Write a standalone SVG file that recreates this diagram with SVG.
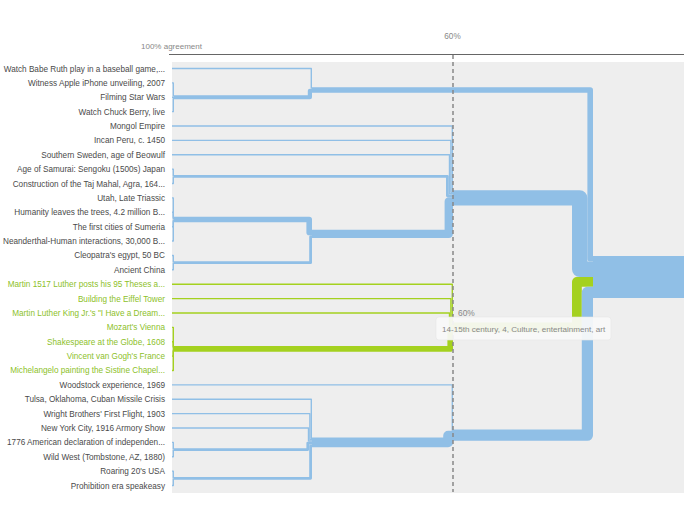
<svg xmlns="http://www.w3.org/2000/svg" width="684" height="532" viewBox="0 0 684 532">
<style>
.lbl{font-family:"Liberation Sans",Arial,sans-serif;font-size:8.2px;fill:#4a4a4a;text-anchor:end}
.lg{fill:#8dbf2a}
.ax{font-family:"Liberation Sans",Arial,sans-serif;fill:#888}
.c{fill:none;stroke-linejoin:round;stroke-linecap:butt}
.b{stroke:#90bfe6}
.gr{stroke:#a4d11f}
.w1{stroke-width:1.4}
.w2{stroke-width:2.8}
.w3{stroke-width:4.2}
.w4{stroke-width:5.6}
.w6{stroke-width:8.4}
.w7{stroke-width:9.8}
.w8{stroke-width:11.2}
.w11{stroke-width:15.4}
.w30{stroke-width:42}
</style>
<rect x="0" y="0" width="684" height="532" fill="#ffffff"/>
<rect x="172" y="62" width="512" height="431" fill="#eeeeee"/>
<g id="axis">
<line x1="169" y1="54.5" x2="684" y2="54.5" stroke="#666" stroke-width="1"/>
<text class="ax" x="141" y="49" font-size="8px">100% agreement</text>
<text class="ax" x="452.5" y="39" font-size="8.2px" text-anchor="middle" fill="#666">60%</text>
</g>
<g id="connectors">
<!-- cluster A -->
<path class="c b w1" d="M172 82.88H173.3V95.86H174"/>
<path class="c b w1" d="M172 97.26H174"/>
<path class="c b w1" d="M172 111.64H173.3V98.66H174"/>
<path class="c b w1" d="M172 68.5H311.3V87.97H312"/>
<path class="c b w3" d="M174 97.26H309.9V90.77H312"/>
<!-- cluster BCD -->
<path class="c b w1" d="M172 169.16H173.3V175.65H174"/>
<path class="c b w1" d="M172 183.54H173.3V177.05H174"/>
<path class="c b w1" d="M172 197.92H173.3V217.39H174"/>
<path class="c b w1" d="M172 212.3H173.3V218.79H174"/>
<path class="c b w1" d="M172 226.68H173.3V220.19H174"/>
<path class="c b w1" d="M172 241.06H173.3V221.59H174"/>
<path class="c b w1" d="M172 255.44H173.3V261.93H174"/>
<path class="c b w1" d="M172 269.82H173.3V263.33H174"/>
<path class="c b w4" d="M174 219.49H309.2V232.47H312"/>
<path class="c b w2" d="M174 262.63H310.6V236.67H312"/>
<path class="c b w1" d="M172 126.02H452.3V190.92H453"/>
<path class="c b w1" d="M172 140.4H450.9V192.32H453"/>
<path class="c b w1" d="M172 154.78H449.5V193.72H453"/>
<path class="c b w2" d="M174 176.35H447.4V195.82H453"/>
<path class="c b w6" d="M312 233.87H448.8V201.42H453"/>
<!-- green cluster -->
<path class="c gr w1" d="M172 327.34H173.3V346.81H174"/>
<path class="c gr w1" d="M172 341.72H173.3V348.21H174"/>
<path class="c gr w1" d="M172 356.1H173.3V349.61H174"/>
<path class="c gr w1" d="M172 370.48H173.3V351.01H174"/>
<path class="c gr w1" d="M172 284.2H452.3V323.14H453"/>
<path class="c gr w1" d="M172 298.58H450.9V324.54H453"/>
<path class="c gr w1" d="M172 312.96H449.5V325.94H453"/>
<path class="c gr w4" d="M174 348.91H450.2V329.44H453"/>
<!-- bottom cluster -->
<path class="c b w1" d="M172 442.38H173.3V448.87H174"/>
<path class="c b w1" d="M172 456.76H173.3V450.27H174"/>
<path class="c b w1" d="M172 471.14H173.3V477.63H174"/>
<path class="c b w1" d="M172 485.52H173.3V479.03H174"/>
<path class="c b w1" d="M172 399.24H311.3V438.18H312"/>
<path class="c b w1" d="M172 413.62H309.9V439.58H312"/>
<path class="c b w1" d="M172 428H308.5V440.98H312"/>
<path class="c b w2" d="M174 449.57H307.8V443.08H312"/>
<path class="c b w2" d="M174 478.33H310.6V445.88H312"/>
<path class="c b w1" d="M172 384.86H452.3V430.29H453"/>
<path class="c b w7" d="M312 442.38H448.1V435.69H453"/>
<!-- root -->
<path class="c b w4" d="M312 90.07H590.2V258.81H593"/>
<path class="c b w11" d="M453 197.92H579.7V269.31H593"/>
<path class="c gr w7" d="M453 327.34H576.9V281.91H593"/>
<path class="c b w8" d="M453 435.19H587.4V292.41H593"/>
<path class="c b w30" d="M593 277.01H690"/>
</g>
<line id="threshold" x1="453" y1="55" x2="453" y2="492" stroke="#888" stroke-width="1.5" stroke-dasharray="4 3"/>
<g id="n1"><text class="lbl" x="165" y="71.5">Watch Babe Ruth play in a baseball game,...</text></g>
<g id="n2"><text class="lbl" x="165" y="85.88">Witness Apple iPhone unveiling, 2007</text></g>
<g id="n3"><text class="lbl" x="165" y="100.26">Filming Star Wars</text></g>
<g id="n4"><text class="lbl" x="165" y="114.64">Watch Chuck Berry, live</text></g>
<g id="n5"><text class="lbl" x="165" y="129.02">Mongol Empire</text></g>
<g id="n6"><text class="lbl" x="165" y="143.4">Incan Peru, c. 1450</text></g>
<g id="n7"><text class="lbl" x="165" y="157.78">Southern Sweden, age of Beowulf</text></g>
<g id="n8"><text class="lbl" x="165" y="172.16">Age of Samurai: Sengoku (1500s) Japan</text></g>
<g id="n9"><text class="lbl" x="165" y="186.54">Construction of the Taj Mahal, Agra, 164...</text></g>
<g id="n10"><text class="lbl" x="165" y="200.92">Utah, Late Triassic</text></g>
<g id="n11"><text class="lbl" x="165" y="215.3">Humanity leaves the trees, 4.2 million B...</text></g>
<g id="n12"><text class="lbl" x="165" y="229.68">The first cities of Sumeria</text></g>
<g id="n13"><text class="lbl" x="165" y="244.06">Neanderthal-Human interactions, 30,000 B...</text></g>
<g id="n14"><text class="lbl" x="165" y="258.44">Cleopatra's egypt, 50 BC</text></g>
<g id="n15"><text class="lbl" x="165" y="272.82">Ancient China</text></g>
<g id="n16"><text class="lbl lg" x="165" y="287.2">Martin 1517 Luther posts his 95 Theses a...</text></g>
<g id="n17"><text class="lbl lg" x="165" y="301.58">Building the Eiffel Tower</text></g>
<g id="n18"><text class="lbl lg" x="165" y="315.96">Martin Luther King Jr.'s "I Have a Dream...</text></g>
<g id="n19"><text class="lbl lg" x="165" y="330.34">Mozart's Vienna</text></g>
<g id="n20"><text class="lbl lg" x="165" y="344.72">Shakespeare at the Globe, 1608</text></g>
<g id="n21"><text class="lbl lg" x="165" y="359.1">Vincent van Gogh's France</text></g>
<g id="n22"><text class="lbl lg" x="165" y="373.48">Michelangelo painting the Sistine Chapel...</text></g>
<g id="n23"><text class="lbl" x="165" y="387.86">Woodstock experience, 1969</text></g>
<g id="n24"><text class="lbl" x="165" y="402.24">Tulsa, Oklahoma, Cuban Missile Crisis</text></g>
<g id="n25"><text class="lbl" x="165" y="416.62">Wright Brothers' First Flight, 1903</text></g>
<g id="n26"><text class="lbl" x="165" y="431">New York City, 1916 Armory Show</text></g>
<g id="n27"><text class="lbl" x="165" y="445.38">1776 American declaration of independen...</text></g>
<g id="n28"><text class="lbl" x="165" y="459.76">Wild West (Tombstone, AZ, 1880)</text></g>
<g id="n29"><text class="lbl" x="165" y="474.14">Roaring 20's USA</text></g>
<g id="n30"><text class="lbl" x="165" y="488.52">Prohibition era speakeasy</text></g>
<g id="hover">
<text class="ax" x="458" y="315.7" font-size="8.4px" fill="#777">60%</text>
<rect x="436" y="317" width="175" height="23" rx="3" fill="#f9f9f9" fill-opacity="0.93" stroke="#e6e6e6" stroke-width="0.6"/>
<text class="ax" x="442" y="332" font-size="8.1px" fill="#666">14-15th century, 4, Culture, entertainment, art</text>
</g>
</svg>
